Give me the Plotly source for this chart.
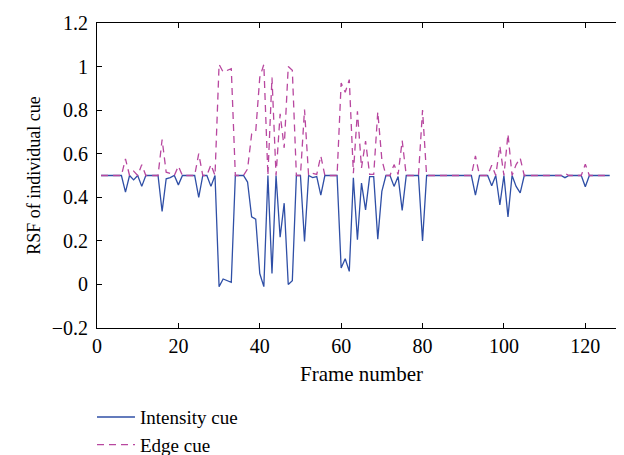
import plotly.graph_objects as go

frames = list(range(1, 127))

intensity_cue = [
    0.5, 0.5, 0.5, 0.5, 0.5, 0.5, 0.424, 0.5, 0.48, 0.5,
    0.45, 0.5, 0.5, 0.5, 0.5, 0.335, 0.485, 0.49, 0.5, 0.457,
    0.5, 0.5, 0.5, 0.5, 0.40, 0.5, 0.5, 0.45, 0.5, -0.01,
    0.025, 0.018, 0.01, 0.5, 0.5, 0.5, 0.47, 0.31, 0.30, 0.05,
    -0.01, 0.5, 0.05, 0.5, 0.217, 0.373, 0.0, 0.017, 0.5, 0.5,
    0.197, 0.5, 0.49, 0.495, 0.41, 0.5, 0.5, 0.5, 0.5, 0.075,
    0.118, 0.06, 0.49, 0.205, 0.465, 0.342, 0.495, 0.495, 0.208, 0.427,
    0.5, 0.5, 0.45, 0.495, 0.34, 0.5, 0.5, 0.5, 0.5, 0.2,
    0.5, 0.5, 0.5, 0.5, 0.5, 0.5, 0.5, 0.5, 0.5, 0.5,
    0.5, 0.5, 0.41, 0.5, 0.5, 0.5, 0.453, 0.5, 0.365, 0.5,
    0.31, 0.5, 0.45, 0.42, 0.5, 0.5, 0.5, 0.5, 0.5, 0.5,
    0.5, 0.5, 0.5, 0.5, 0.49, 0.5, 0.5, 0.5, 0.5, 0.448,
    0.5, 0.5, 0.5, 0.5, 0.5, 0.5,
]

edge_cue = [
    0.5, 0.5, 0.5, 0.5, 0.5, 0.5, 0.576, 0.5, 0.52, 0.5,
    0.55, 0.5, 0.5, 0.5, 0.5, 0.665, 0.515, 0.51, 0.5, 0.543,
    0.5, 0.5, 0.5, 0.5, 0.60, 0.5, 0.5, 0.55, 0.5, 1.01,
    0.975, 0.982, 0.99, 0.5, 0.5, 0.5, 0.53, 0.69, 0.70, 0.95,
    1.01, 0.5, 0.95, 0.5, 0.783, 0.627, 1.0, 0.983, 0.5, 0.5,
    0.803, 0.5, 0.51, 0.505, 0.59, 0.5, 0.5, 0.5, 0.5, 0.925,
    0.882, 0.94, 0.51, 0.795, 0.535, 0.658, 0.505, 0.505, 0.792, 0.573,
    0.5, 0.5, 0.55, 0.505, 0.66, 0.5, 0.5, 0.5, 0.5, 0.8,
    0.5, 0.5, 0.5, 0.5, 0.5, 0.5, 0.5, 0.5, 0.5, 0.5,
    0.5, 0.5, 0.59, 0.5, 0.5, 0.5, 0.547, 0.5, 0.635, 0.5,
    0.69, 0.5, 0.55, 0.58, 0.5, 0.5, 0.5, 0.5, 0.5, 0.5,
    0.5, 0.5, 0.5, 0.5, 0.51, 0.5, 0.5, 0.5, 0.5, 0.552,
    0.5, 0.5, 0.5, 0.5, 0.5, 0.5,
]

x_ticks = [0, 20, 40, 60, 80, 100, 120]
y_ticks = [-0.2, 0, 0.2, 0.4, 0.6, 0.8, 1, 1.2]
y_tick_labels = ["\u22120.2", "0", "0.2", "0.4", "0.6", "0.8", "1", "1.2"]

BLUE = "#2f4fa6"
MAGENTA = "#b8479f"
FONT = "Liberation Serif"

fig = go.Figure()
fig.add_trace(go.Scatter(
    x=frames, y=intensity_cue, mode="lines", name="Intensity cue",
    line=dict(color=BLUE, width=1.3),
))
fig.add_trace(go.Scatter(
    x=frames, y=edge_cue, mode="lines", name="Edge cue",
    line=dict(color=MAGENTA, width=1.3, dash="7px,5px"),
))

fig.update_layout(
    width=624, height=455,
    margin=dict(l=89, r=6, t=15, b=135, autoexpand=False),
    paper_bgcolor="white", plot_bgcolor="white",
    font=dict(family=FONT, size=20, color="black"),
    showlegend=True,
    legend=dict(
        x=-0.0095, y=-0.230, xanchor="left", yanchor="top",
        font=dict(family=FONT, size=19, color="black"),
        bgcolor="rgba(0,0,0,0)", tracegroupgap=0, itemwidth=38,
    ),
    xaxis=dict(
        range=[0, 130], tickmode="array", tickvals=x_ticks,
        ticks="inside", ticklen=5, tickcolor="black",
        showline=True, linecolor="black", linewidth=1, mirror="ticks",
        showgrid=False, zeroline=False, automargin=False,
        tickfont=dict(family=FONT, size=20),
        title=dict(text="Frame number", font=dict(family=FONT, size=21), standoff=10),
    ),
    yaxis=dict(
        range=[-0.2, 1.2], tickmode="array", tickvals=y_ticks, ticktext=y_tick_labels,
        ticks="inside", ticklen=5, tickcolor="black",
        showline=True, linecolor="black", linewidth=1, mirror="ticks",
        showgrid=False, zeroline=False, automargin=False,
        tickfont=dict(family=FONT, size=20), ticklabelstandoff=4,
        title=dict(text="RSF of individual cue", font=dict(family=FONT, size=18), standoff=6),
    ),
)

fig.write_html("out.html")
